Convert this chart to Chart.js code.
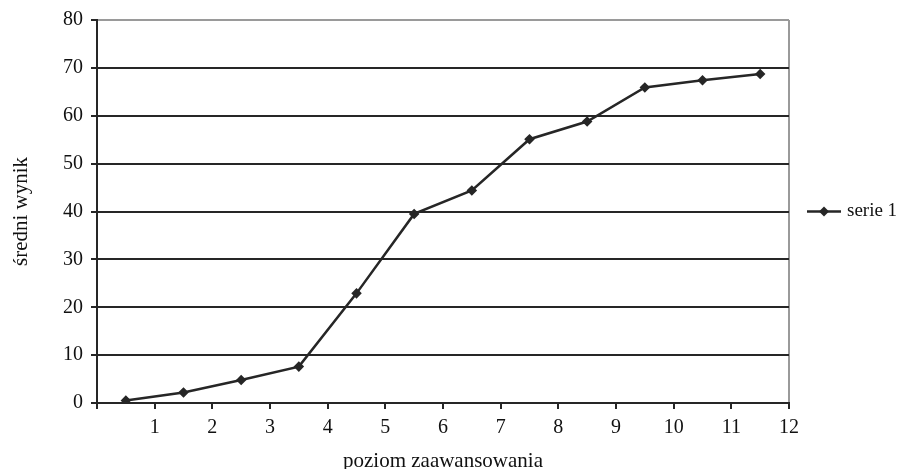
<!DOCTYPE html>
<html>
<head>
<meta charset="utf-8">
<script src="https://cdn.jsdelivr.net/npm/chart.js@4/dist/chart.umd.min.js"></script>
<style>
    html, body { margin: 0; padding: 0; background: #fff; }
    #wrap { width: 904px; height: 469px; position: relative; }
</style>
</head>
<body>
<div id="wrap"><canvas id="chart"></canvas></div>
<script>
// poziom zaawansowania (points sit between the integer ticks)
const levels = [0.5, 1.5, 2.5, 3.5, 4.5, 5.5, 6.5, 7.5, 8.5, 9.5, 10.5, 11.5];
// średni wynik
const scores = [0.5, 2.2, 4.8, 7.6, 22.9, 39.5, 44.4, 55.1, 58.8, 65.9, 67.4, 68.7];
const seriesName = 'serie 1';

const ink = '#262626';
const frame = '#9a9a9a';
const serif = "'Liberation Serif', 'Times New Roman', serif";

// line + diamond legend on the right side
const sideLegend = {
    id: 'sideLegend',
    afterDraw(chart) {
        const ctx = chart.ctx;
        const y = (chart.chartArea.top + chart.chartArea.bottom) / 2;
        const x0 = 807;
        ctx.save();
        ctx.strokeStyle = ink;
        ctx.lineWidth = 2.5;
        ctx.beginPath();
        ctx.moveTo(x0, y);
        ctx.lineTo(x0 + 34, y);
        ctx.stroke();
        ctx.fillStyle = ink;
        ctx.beginPath();
        ctx.moveTo(x0 + 17, y - 5);
        ctx.lineTo(x0 + 22, y);
        ctx.lineTo(x0 + 17, y + 5);
        ctx.lineTo(x0 + 12, y);
        ctx.closePath();
        ctx.fill();
        ctx.font = '19px ' + serif;
        ctx.fillStyle = '#111';
        ctx.textBaseline = 'middle';
        ctx.fillText(seriesName, x0 + 40, y);
        ctx.restore();
    }
};

new Chart(document.getElementById('chart'), {
    type: 'line',
    data: {
        datasets: [{
            label: seriesName,
            data: levels.map((x, i) => ({ x: x, y: scores[i] })),
            borderColor: ink,
            backgroundColor: ink,
            borderWidth: 2.5,
            pointStyle: 'rectRot',
            pointRadius: 3.5,
            tension: 0
        }]
    },
    options: {
        responsive: true,
        maintainAspectRatio: false,
        animation: false,
        layout: { padding: { top: 19, right: 115, bottom: 0, left: 9 } },
        plugins: {
            legend: { display: false },
            tooltip: { enabled: false }
        },
        scales: {
            x: {
                type: 'linear',
                min: 0,
                max: 12,
                afterFit: s => { s.height = 66; },
                ticks: {
                    stepSize: 1,
                    color: '#111',
                    font: { family: serif, size: 20 },
                    padding: 7,
                    maxRotation: 0,
                    callback: v => v === 0 ? '' : v
                },
                grid: {
                    color: c => c.tick && c.tick.value === 12 ? frame : 'transparent',
                    lineWidth: 2,
                    tickColor: ink,
                    tickLength: 6
                },
                border: { color: ink, width: 2 },
                title: {
                    display: true,
                    text: 'poziom zaawansowania',
                    color: '#111',
                    font: { family: serif, size: 21 },
                    padding: { top: 4, bottom: -5 }
                }
            },
            y: {
                min: 0,
                max: 80,
                afterFit: s => { s.width = 88; },
                ticks: {
                    stepSize: 10,
                    color: '#111',
                    font: { family: serif, size: 20 },
                    padding: 8
                },
                grid: {
                    color: c => c.tick && c.tick.value === 80 ? frame : ink,
                    lineWidth: 2,
                    tickColor: ink,
                    tickLength: 6
                },
                border: { color: ink, width: 2 },
                title: {
                    display: true,
                    text: 'średni wynik',
                    color: '#111',
                    font: { family: serif, size: 21 },
                    padding: { top: 0, bottom: 0 }
                }
            }
        }
    },
    plugins: [sideLegend]
});
</script>
</body>
</html>
